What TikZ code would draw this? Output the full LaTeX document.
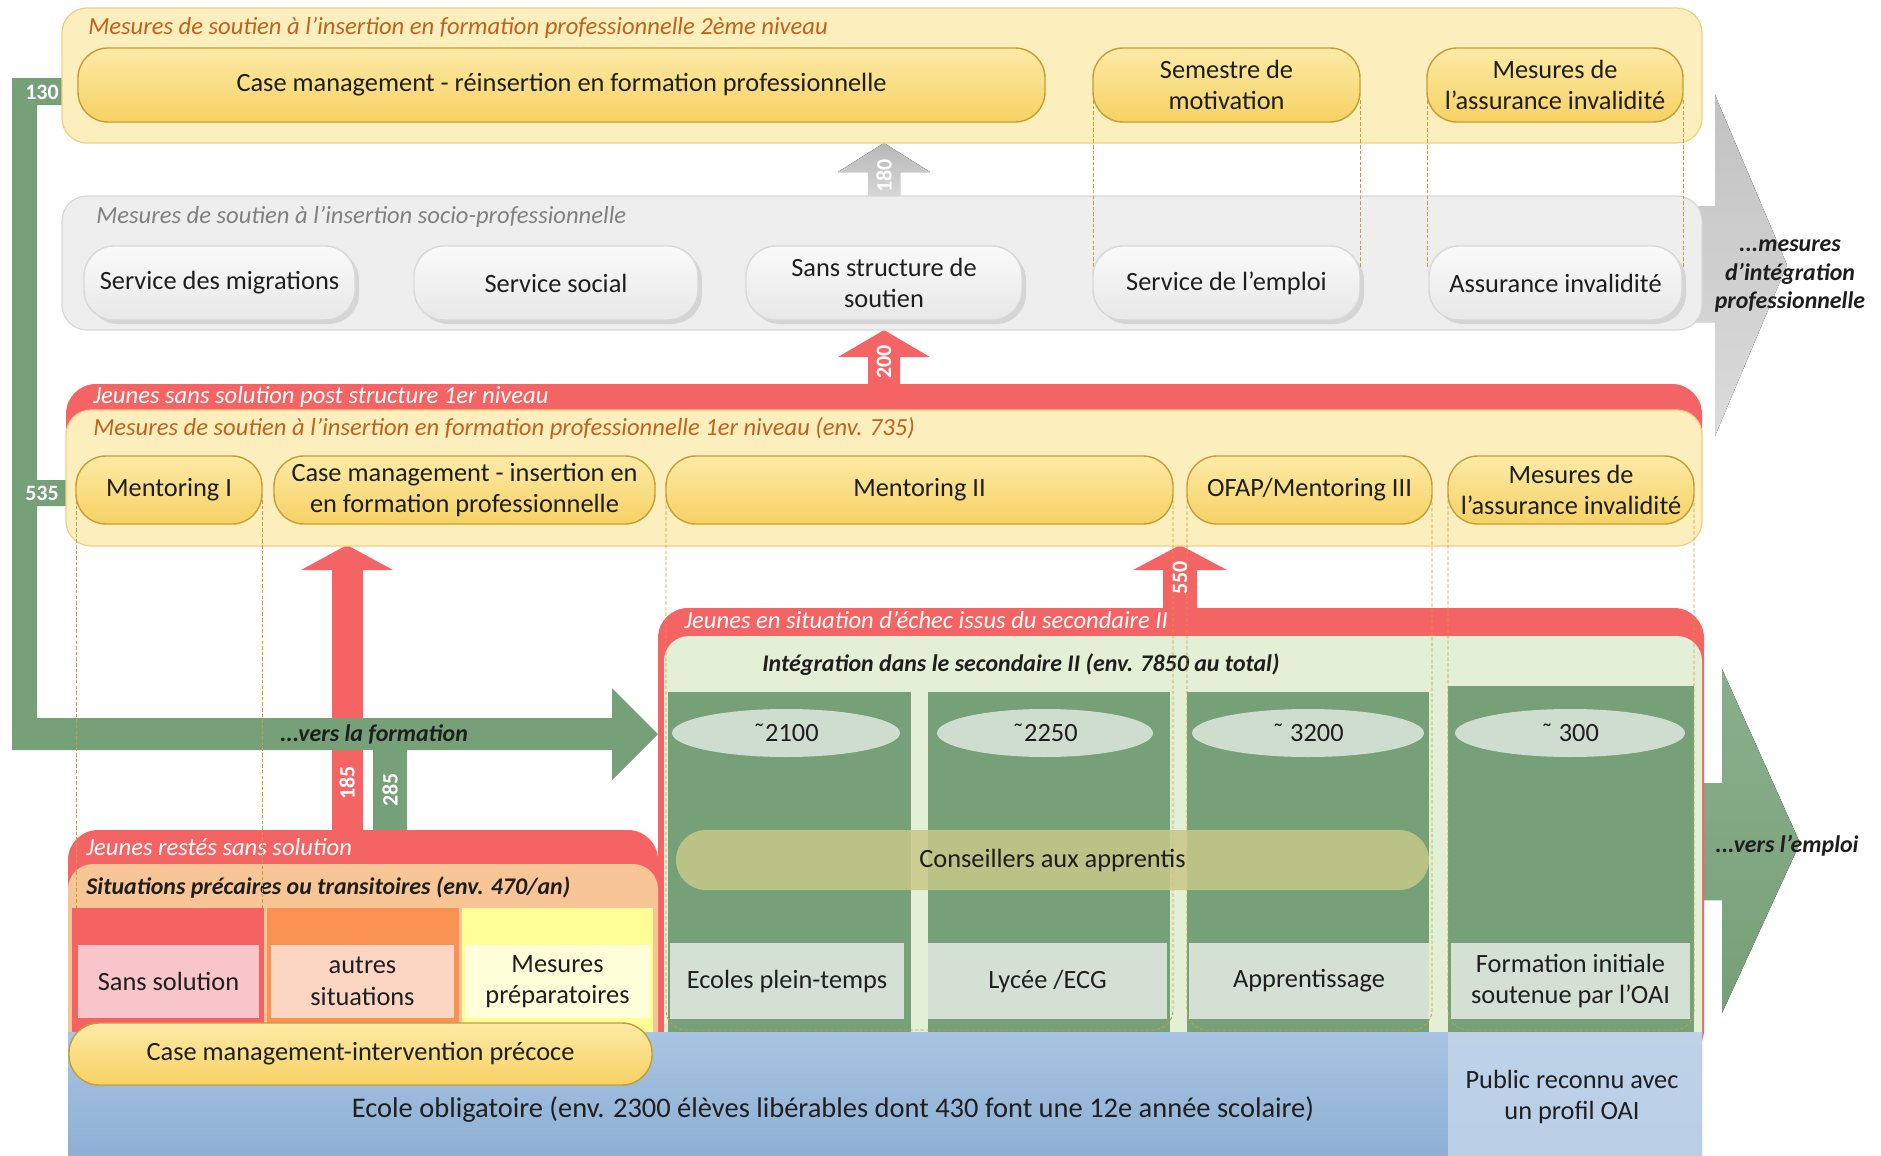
\documentclass[tikz,border=0pt]{standalone}
\usepackage{fontspec}
\setmainfont{Carlito}
\usetikzlibrary{shapes.geometric,shadows}

\definecolor{panelyellow}{RGB}{253,238,190}
\definecolor{yellowline}{RGB}{240,208,128}
\definecolor{pilltop}{RGB}{252,234,166}
\definecolor{pillbottom}{RGB}{247,210,100}
\definecolor{pillline}{RGB}{196,158,52}
\definecolor{titlebrown}{RGB}{192,98,26}
\definecolor{panelgrey}{RGB}{238,238,238}
\definecolor{greyline}{RGB}{216,216,216}
\definecolor{greytitle}{RGB}{128,128,128}
\definecolor{alertred}{RGB}{245,100,100}
\definecolor{flowgreen}{RGB}{118,160,120}
\definecolor{palegreen}{RGB}{227,240,214}
\definecolor{ovalgreen}{RGB}{207,221,207}
\definecolor{boxgreen}{RGB}{211,224,211}
\definecolor{khaki}{RGB}{200,200,136}
\definecolor{schooltop}{RGB}{168,196,226}
\definecolor{schoolbottom}{RGB}{142,176,212}
\definecolor{oaiblue}{RGB}{190,210,232}
\definecolor{peach}{RGB}{248,198,150}
\definecolor{colred}{RGB}{244,98,98}
\definecolor{colorange}{RGB}{250,146,84}
\definecolor{colyellow}{RGB}{255,255,150}
\definecolor{boxpink}{RGB}{248,198,202}
\definecolor{boxpeach}{RGB}{252,214,194}
\definecolor{boxcream}{RGB}{255,255,218}
\definecolor{guidegold}{RGB}{196,160,60}
\definecolor{inktext}{RGB}{30,30,30}

% box size given in picture pixels
\tikzset{boxsize/.style 2 args={minimum width=#1*0.2mm, minimum height=#2*0.2mm}}

\begin{document}
\begin{tikzpicture}[
    x=0.2mm, y=-0.2mm,
    font=\fontsize{15}{18}\selectfont,
    text=inktext,
    panel/.style={rounded corners=5mm, line width=0.7pt},
    pill/.style={draw=pillline, line width=0.8pt, rounded corners=6mm,
        top color=pilltop, bottom color=pillbottom, inner sep=0pt, align=center},
    greypill/.style={draw=greyline, line width=0.8pt, rounded corners=6mm,
        top color=black!2, bottom color=black!9, inner sep=0pt, align=center,
        drop shadow={shadow xshift=0.8mm, shadow yshift=-0.8mm, opacity=0.22}},
    heading/.style={anchor=west, inner sep=0pt, font=\fontsize{14}{16}\selectfont\itshape},
    boldheading/.style={inner sep=0pt, align=center, font=\fontsize{13.6}{16}\selectfont\bfseries\itshape},
    count/.style={text=white, inner sep=0pt, font=\fontsize{12.5}{14}\selectfont\bfseries},
    guide/.style={draw=guidegold, line width=0.5pt, dash pattern=on 2pt off 1.2pt, rounded corners=4mm},
    oval/.style={ellipse, fill=ovalgreen, inner sep=0pt, minimum height=9.6mm},
    greenbox/.style={fill=boxgreen, inner sep=0pt, align=center}
]
    \useasboundingbox (0,0) rectangle (1881,1156);

    % Big arrows leaving on the right
    \fill[top color=black!24, bottom color=black!14]
        (1690,206) -- (1715,206) -- (1715,95) -- (1787,265) -- (1715,436) -- (1715,322) -- (1690,322) -- cycle;
    \fill[top color=flowgreen!85, bottom color=flowgreen]
        (1690,783) -- (1722,783) -- (1722,669) -- (1800,843) -- (1722,1013) -- (1722,900) -- (1690,900) -- cycle;

    % Up arrows between the levels
    \fill[alertred] (332,840) -- (332,570) -- (301,570) -- (347,545) -- (393,570) -- (363,570) -- (363,840) -- cycle;
    \fill[alertred] (1163,620) -- (1163,570) -- (1133,570) -- (1180,545) -- (1227,570) -- (1197,570) -- (1197,620) -- cycle;
    \fill[alertred] (868,400) -- (868,357) -- (838,357) -- (884,330) -- (930,357) -- (900,357) -- (900,400) -- cycle;
    \fill[top color=black!28, bottom color=black!14]
        (868,205) -- (868,172) -- (838,172) -- (884,143) -- (930,172) -- (900,172) -- (900,205) -- cycle;

    % Green return arrow on the left (...vers la formation)
    \fill[flowgreen] (12,78) -- (64,78) -- (64,105) -- (37,105) -- (37,480) -- (68,480) -- (68,506)
        -- (37,506) -- (37,718) -- (612,718) -- (612,688) -- (658,734) -- (612,780) -- (612,750)
        -- (407,750) -- (407,830) -- (373,830) -- (373,750) -- (12,750) -- cycle;

    % Second level panel
    \draw[panel, draw=yellowline, fill=panelyellow] (62,8) rectangle (1702,143);
    \node[heading, text=titlebrown] (ttwo) at (88,28)
        {Mesures de soutien à l’insertion en formation professionnelle 2ème niveau};

    % Socio-professional panel
    \draw[panel, draw=greyline, fill=panelgrey] (62,196) rectangle (1702,330);
    \node[heading, text=greytitle] (tsocio) at (96,217)
        {Mesures de soutien à l’insertion socio-professionnelle};

    % First level panel
    \fill[alertred, rounded corners=6mm] (66,384) rectangle (1702,520);
    \draw[panel, draw=yellowline, fill=panelyellow] (66,410) rectangle (1702,546);
    \node[heading, text=white] (tredone) at (93,397) {Jeunes sans solution post structure 1er niveau};
    \node[heading, text=titlebrown] (tone) at (93,428)
        {Mesures de soutien à l’insertion en formation professionnelle 1er niveau (env. 735)};

    % Secondary II
    \fill[alertred, rounded corners=6mm] (658,608) rectangle (1704,1060);
    \fill[palegreen, rounded corners=5mm] (664,636) rectangle (1702,1060);
    \fill[flowgreen] (668,692) rectangle (911,1032);
    \fill[flowgreen] (928,692) rectangle (1170,1032);
    \fill[flowgreen] (1187,692) rectangle (1429,1032);
    \fill[flowgreen] (1448,686) rectangle (1694,1032);
    \node[heading, text=white] (tredsec) at (684,620) {Jeunes en situation d’échec issus du secondaire II};
    \node[boldheading, anchor=west] (tsec) at (762,665) {Intégration dans le secondaire II (env. 7850 au total)};

    % Youth without solution
    \fill[alertred, rounded corners=6mm] (68,830) rectangle (658,1060);
    \fill[peach, rounded corners=5mm] (68,864) rectangle (658,1060);
    \fill[colred] (72,908) rectangle (264,1032);
    \fill[colorange] (267,908) rectangle (459,1032);
    \fill[colyellow] (462,908) rectangle (653,1032);
    \node[heading, text=white] (tredbot) at (86,847) {Jeunes restés sans solution};
    \node[boldheading, anchor=west] (tprec) at (86,888) {Situations précaires ou transitoires (env. 470/an)};

    % Compulsory school
    \fill[top color=schooltop, bottom color=schoolbottom] (68,1032) rectangle (1702,1156);
    \fill[top color=oaiblue, bottom color=oaiblue!90!schoolbottom] (1448,1032) rectangle (1702,1156);
    \node[font=\fontsize{16.2}{19}\selectfont] (ecole) at (833,1110)
        {Ecole obligatoire (env. 2300 élèves libérables dont 430 font une 12e année scolaire)};
    \node[align=center] (oai) at (1572,1097) {Public reconnu avec\\un profil OAI};

    % Dashed guides below the measures
    \draw[guide] (1093,100) -- (1093,267);
    \draw[guide] (1360,100) -- (1360,267);
    \draw[guide] (1427,100) -- (1427,267);
    \draw[guide] (1683,100) -- (1683,267);
    \draw[guide] (76,500) -- (76,908);
    \draw[guide] (262,500) -- (262,908);
    \draw[guide] (666,500) -- (666,1030) -- (1173,1030) -- (1173,500);
    \draw[guide] (1187,500) -- (1187,1030) -- (1432,1030) -- (1432,500);
    \draw[guide] (1448,500) -- (1448,1030) -- (1694,1030) -- (1694,500);

    % Second level measures
    \node[pill, boxsize={967}{74}] (cmreins) at (561.5,85)
        {Case management - réinsertion en formation professionnelle};
    \node[pill, boxsize={267}{74}] (semestre) at (1226.5,85) {Semestre de\\motivation};
    \node[pill, boxsize={256}{74}] (aitwo) at (1555,85) {Mesures de\\l’assurance invalidité};

    % Socio-professional services
    \node[greypill, boxsize={271}{74}] (migr) at (219.5,283) {Service des migrations};
    \node[greypill, boxsize={284}{74}] (social) at (556,283) {Service social};
    \node[greypill, boxsize={276}{74}] (nostruct) at (884,283) {Sans structure de\\soutien};
    \node[greypill, boxsize={267}{74}] (emploi) at (1226.5,283) {Service de l’emploi};
    \node[greypill, boxsize={253}{74}] (ai) at (1555.5,283) {Assurance invalidité};

    % First level measures
    \node[pill, boxsize={186}{68}] (mentone) at (169,490) {Mentoring I};
    \node[pill, boxsize={381}{68}] (cmins) at (464.5,490)
        {Case management - insertion en\\en formation professionnelle};
    \node[pill, boxsize={507}{68}] (menttwo) at (919.5,490) {Mentoring II};
    \node[pill, boxsize={245}{68}] (ofap) at (1309.5,490) {OFAP/Mentoring III};
    \node[pill, boxsize={246}{68}] (aione) at (1571,490) {Mesures de\\l’assurance invalidité};

    % Secondary II tracks
    \node[oval, minimum width=45.6mm] (ovfull) at (786,733) {{\char"02DC}2100};
    \node[oval, minimum width=43.2mm] (ovlycee) at (1045,733) {{\char"02DC}2250};
    \node[oval, minimum width=46.4mm] (ovappr) at (1308,733) {{\char"02DC}\ 3200};
    \node[oval, minimum width=46mm] (ovoai) at (1570,733) {{\char"02DC}\ 300};
    \node[boxsize={753}{60}, fill=khaki, fill opacity=0.85, text opacity=1,
        rounded corners=6mm, inner sep=0pt] (conseil) at (1052.5,860) {Conseillers aux apprentis};
    \node[greenbox, boxsize={234}{76}] (ecoles) at (787,981) {Ecoles plein-temps};
    \node[greenbox, boxsize={239}{76}] (lycee) at (1047.5,981) {Lycée /ECG};
    \node[greenbox, boxsize={240}{76}] (appr) at (1309,981) {Apprentissage};
    \node[greenbox, boxsize={239}{76}] (forminit) at (1570.5,981) {Formation initiale\\soutenue par l’OAI};

    % Precarious situations
    \node[boxsize={181}{73}, fill=boxpink, inner sep=0pt] (sanssol) at (168.5,981.5) {Sans solution};
    \node[boxsize={183}{73}, fill=boxpeach, inner sep=0pt, align=center] (autres) at (362.5,981.5) {autres\\situations};
    \node[boxsize={185}{73}, fill=boxcream, inner sep=0pt, align=center] (prep) at (557.5,981.5) {Mesures\\préparatoires};
    \node[pill, boxsize={583}{62}] (cmprec) at (360.5,1054) {Case management-intervention précoce};

    % Arrow labels
    \node[boldheading] (vform) at (374,734) {...vers la formation};
    \node[boldheading] (vemploi) at (1787,846) {...vers l’emploi};
    \node[boldheading] (vmesures) at (1790,276) {...mesures\\d’intégration\\professionnelle};
    \node[count] (ncent) at (42,92) {130};
    \node[count] (nmentor) at (42,493) {535};
    \node[count, rotate=90] (nsocio) at (884,176) {180};
    \node[count, rotate=90] (nstruct) at (884,362) {200};
    \node[count, rotate=90] (nechec) at (1180,578) {550};
    \node[count, rotate=90] (nsans) at (347,783) {185};
    \node[count, rotate=90] (nform) at (390,790) {285};

\end{tikzpicture}
\end{document}
